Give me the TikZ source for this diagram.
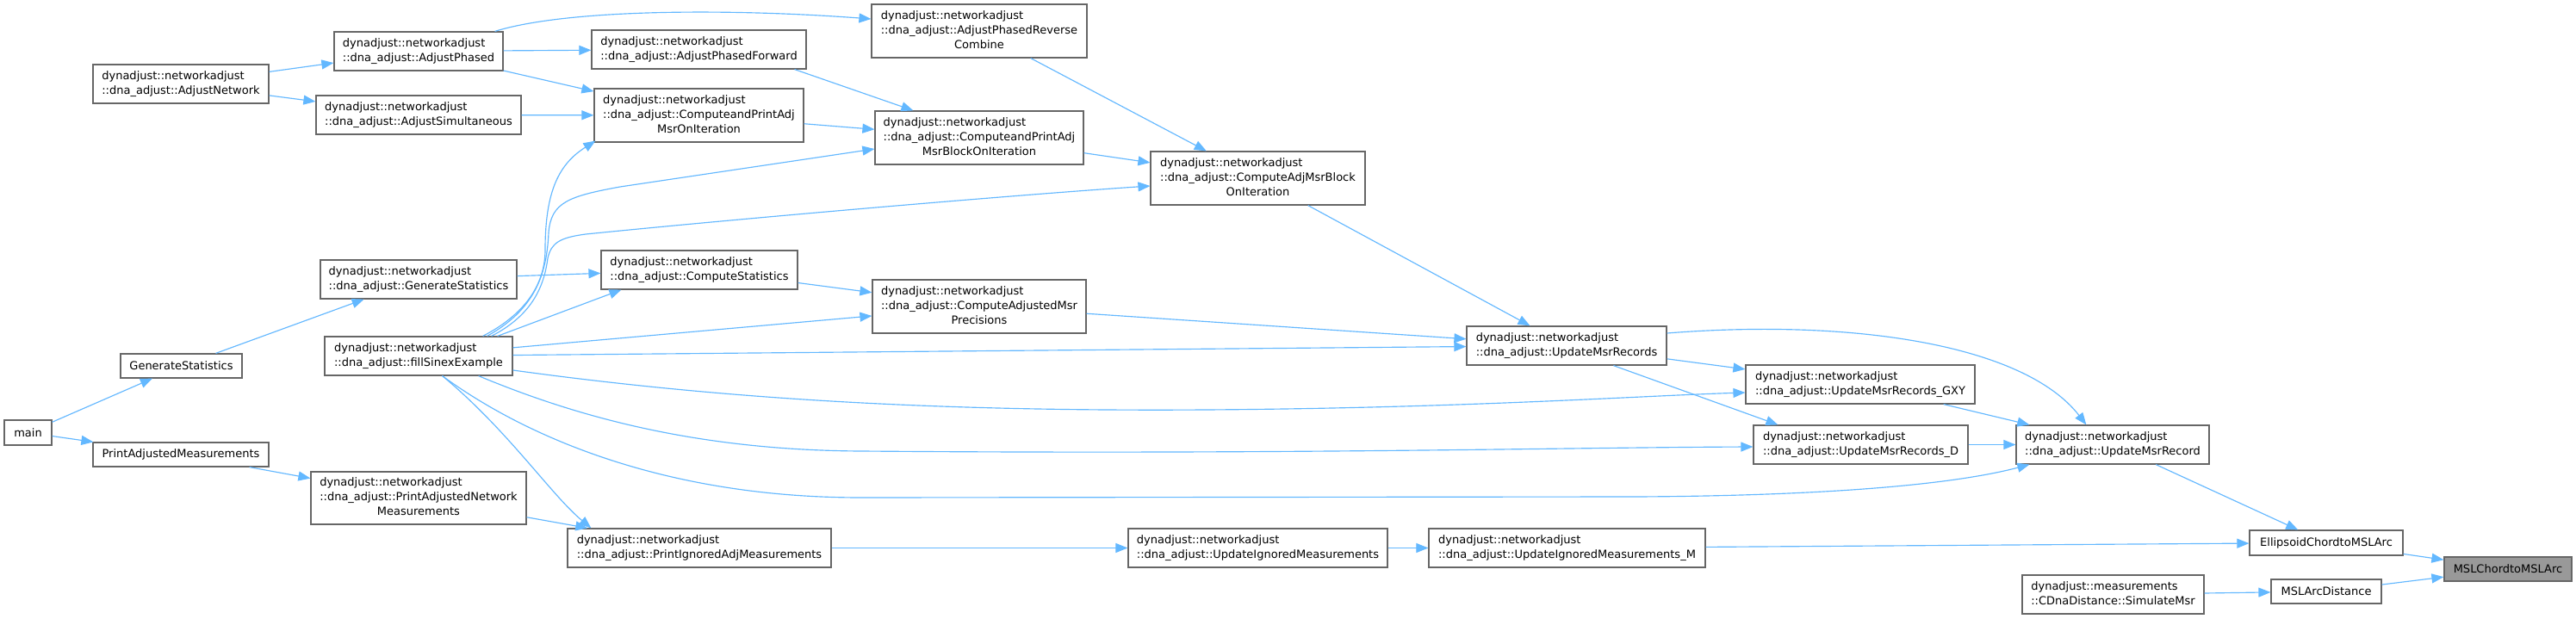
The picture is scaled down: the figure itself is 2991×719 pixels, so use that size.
\documentclass[tikz,border=0pt]{standalone}
\usepackage{fontspec}
\setmainfont{DejaVu Sans}
\usetikzlibrary{arrows.meta,calc}
\definecolor{edgeblue}{HTML}{63B8FF}
\definecolor{boxgray}{HTML}{666666}
\definecolor{focusgray}{HTML}{999999}
\newcommand\twol[2]{\begin{tabular}{@{}l@{}}#1\\#2\end{tabular}}
\newcommand\threel[3]{\begin{tabular}{@{}l@{}}#1\\#2\\\multicolumn{1}{@{}c@{}}{#3}\end{tabular}}
\newcommand\dn{dynadjust::networkadjust}
\begin{document}
\begin{tikzpicture}[x=1pt,y=-1pt,
  box/.style={draw=boxgray, line width=1.2pt, fill=white, inner sep=0pt, align=center,
    font=\fontsize{13}{17}\selectfont},
  focus/.style={box, fill=focusgray},
  edge/.style={draw=edgeblue, line width=1.15pt, -{Triangle[length=14pt,width=11pt]}}]
\useasboundingbox[fill=white] (0,0) rectangle (2991,719);
% nodes
\node[box, minimum width=55pt, minimum height=29pt] (main) at (32.5,502.5) {main};
\node[box, minimum width=141pt, minimum height=28pt] (gstat) at (210.5,425) {GenerateStatistics};
\node[box, minimum width=204pt, minimum height=28pt] (pam) at (210,528) {PrintAdjustedMeasurements};
\node[box, minimum width=204pt, minimum height=45pt] (an) at (210,97.5) {\twol{\dn}{::dna\_adjust::AdjustNetwork}};
\node[box, minimum width=196pt, minimum height=45pt] (ap) at (486,59.5) {\twol{\dn}{::dna\_adjust::AdjustPhased}};
\node[box, minimum width=238pt, minimum height=45pt] (as) at (486,133.5) {\twol{\dn}{::dna\_adjust::AdjustSimultaneous}};
\node[box, minimum width=228pt, minimum height=45pt] (dgs) at (486,324.5) {\twol{\dn}{::dna\_adjust::GenerateStatistics}};
\node[box, minimum width=218pt, minimum height=45pt] (fse) at (486,413.5) {\twol{\dn}{::dna\_adjust::fillSinexExample}};
\node[box, minimum width=250pt, minimum height=61pt] (panm) at (486,578.5) {\threel{\dn}{::dna\_adjust::PrintAdjustedNetwork}{Measurements}};
\node[box, minimum width=249pt, minimum height=45pt] (apf) at (811.5,57.5) {\twol{\dn}{::dna\_adjust::AdjustPhasedForward}};
\node[box, minimum width=243pt, minimum height=62pt] (cpamoi) at (811.5,134) {\threel{\dn}{::dna\_adjust::ComputeandPrintAdj}{MsrOnIteration}};
\node[box, minimum width=228pt, minimum height=45pt] (cs) at (812,313.5) {\twol{\dn}{::dna\_adjust::ComputeStatistics}};
\node[box, minimum width=306pt, minimum height=45pt] (piam) at (812,636.5) {\twol{\dn}{::dna\_adjust::PrintIgnoredAdjMeasurements}};
\node[box, minimum width=250pt, minimum height=62pt] (aprc) at (1137,36) {\threel{\dn}{::dna\_adjust::AdjustPhasedReverse}{Combine}};
\node[box, minimum width=242pt, minimum height=62pt] (cpambo) at (1137,160) {\threel{\dn}{::dna\_adjust::ComputeandPrintAdj}{MsrBlockOnIteration}};
\node[box, minimum width=248pt, minimum height=62pt] (camp) at (1137,356) {\threel{\dn}{::dna\_adjust::ComputeAdjustedMsr}{Precisions}};
\node[box, minimum width=301pt, minimum height=45pt] (uim) at (1460.5,636.5) {\twol{\dn}{::dna\_adjust::UpdateIgnoredMeasurements}};
\node[box, minimum width=249pt, minimum height=62pt] (cambo) at (1460.5,207) {\threel{\dn}{::dna\_adjust::ComputeAdjMsrBlock}{OnIteration}};
\node[box, minimum width=232pt, minimum height=45pt] (umr) at (1819,401.5) {\twol{\dn}{::dna\_adjust::UpdateMsrRecords}};
\node[box, minimum width=321pt, minimum height=45pt] (uimm) at (1819.5,636.5) {\twol{\dn}{::dna\_adjust::UpdateIgnoredMeasurements\_M}};
\node[box, minimum width=266pt, minimum height=45pt] (gxy) at (2160,446.5) {\twol{\dn}{::dna\_adjust::UpdateMsrRecords\_GXY}};
\node[box, minimum width=249pt, minimum height=45pt] (umrd) at (2160.5,516.5) {\twol{\dn}{::dna\_adjust::UpdateMsrRecords\_D}};
\node[box, minimum width=224pt, minimum height=45pt] (umr1) at (2453,516.5) {\twol{\dn}{::dna\_adjust::UpdateMsrRecord}};
\node[box, minimum width=178pt, minimum height=29pt] (ecm) at (2701,630.5) {EllipsoidChordtoMSLArc};
\node[focus, minimum width=148pt, minimum height=28pt] (mslc) at (2912,661) {MSLChordtoMSLArc};
\node[box, minimum width=128pt, minimum height=28pt] (msld) at (2701,687) {MSLArcDistance};
\node[box, minimum width=211pt, minimum height=45pt] (sim) at (2453.5,690.5) {\twol{dynadjust::measurements}{::CDnaDistance::SimulateMsr}};
% straight edges
\draw[edge] (main) -- (gstat);
\draw[edge] (main) -- (pam);
\draw[edge] (gstat) -- (dgs);
\draw[edge] (pam) -- (panm);
\draw[edge] (an) -- (ap);
\draw[edge] (an) -- (as);
\draw[edge] (ap) -- (apf);
\draw[edge] (ap) -- (cpamoi);
\draw[edge] (as) -- (cpamoi);
\draw[edge] (dgs) -- (cs);
\draw[edge] ([xshift=-18pt]fse.north east) -- ([xshift=24pt]cs.south west);
\draw[edge] (fse) -- (camp);
\draw[edge] (fse) -- (umr);
\draw[edge] (panm) -- (piam);
\draw[edge] ([xshift=-14pt]apf.south east) -- ([xshift=45pt]cpambo.north west);
\draw[edge] (cpamoi) -- (cpambo);
\draw[edge] (cs) -- (camp);
\draw[edge] (piam) -- (uim);
\draw[edge] (aprc) -- (cambo);
\draw[edge] (cpambo) -- (cambo);
\draw[edge] (camp) -- (umr);
\draw[edge] (uim) -- (uimm);
\draw[edge] (cambo) -- (umr);
\draw[edge] (umr) -- (gxy);
\draw[edge] ([xshift=171pt]umr.south west) -- ([xshift=29pt]umrd.north west);
\draw[edge] (gxy) -- (umr1);
\draw[edge] (umrd) -- (umr1);
\draw[edge] (umr1) -- (ecm);
\draw[edge] (uimm) -- (ecm);
\draw[edge] (ecm) -- (mslc);
\draw[edge] (sim) -- (msld);
\draw[edge] (msld) -- (mslc);
% curved edges
\draw[edge] ([xshift=-10pt]ap.north east) .. controls (660,10) and (850,10) .. ([yshift=14pt]aprc.west);
\draw[edge] ([xshift=-35pt]fse.north east) .. controls (610,365) and (633,330) .. (633,290)
   .. controls (633,220) and (650,190) .. ([xshift=2pt,yshift=2pt]cpamoi.south west);
\draw[edge] ([xshift=-30pt]fse.north east) .. controls (620,360) and (635,320) .. (637,270)
   .. controls (640,235) and (660,228) .. (720,217) -- ([yshift=-13pt]cpambo.west);
\draw[edge] ([xshift=-25pt]fse.north east) .. controls (620,365) and (632,330) .. (636,300)
   .. controls (640,282) and (650,276) .. (680,272) .. controls (900,250) and (1200,225) .. ([yshift=-9pt]cambo.west);
\draw[edge] ([yshift=-16.5pt]fse.east) .. controls (850,465) and (1100,478) .. (1400,476)
   .. controls (1700,474) and (1900,460) .. ([yshift=-9.5pt]gxy.west);
\draw[edge] ([xshift=-40pt]fse.south east) .. controls (660,480) and (800,523) .. (1000,524)
   .. controls (1500,528) and (1800,520) .. ([yshift=-2.5pt]umrd.west);
\draw[edge] ([xshift=-82pt]fse.south east) .. controls (600,500) and (760,578) .. (1000,578)
   -- (1900,577) .. controls (2100,576) and (2260,565) .. ([xshift=16pt]umr1.south west);
\draw[edge] ([xshift=-82pt]fse.south east) .. controls (590,500) and (640,575) .. ([xshift=28pt]piam.north west);
\draw[edge] ([yshift=14.5pt]umr.east) .. controls (2150,370) and (2350,400) .. ([xshift=82pt]umr1.north west);
\end{tikzpicture}
\end{document}
